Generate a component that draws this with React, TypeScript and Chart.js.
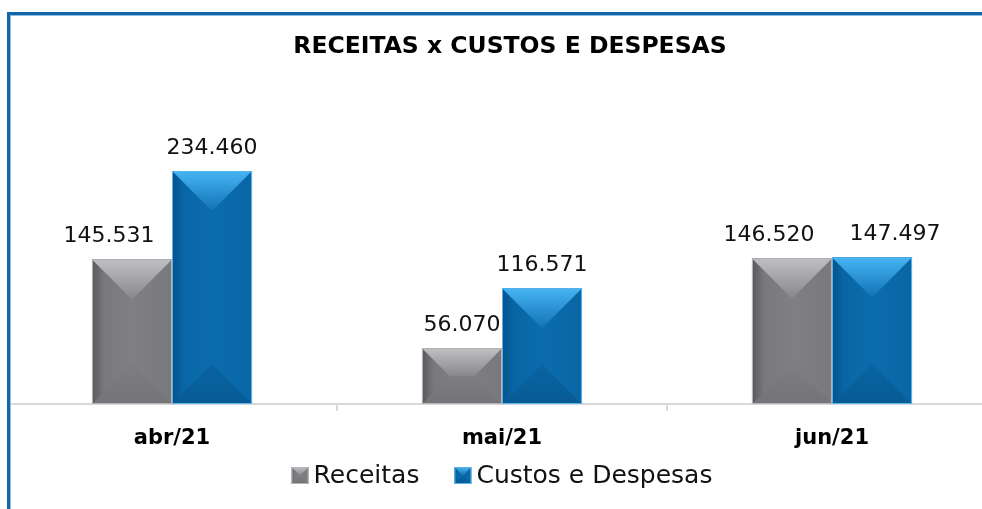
import { useEffect, useRef } from 'react';
import { Chart, registerables } from 'chart.js';

Chart.register(...registerables);

const categories = ['abr/21', 'mai/21', 'jun/21'];
const receitas = [145531, 56070, 146520];
const custos = [234460, 116571, 147497];
const seriesNames = ['Receitas', 'Custos e Despesas'];
const chartTitle = 'RECEITAS x CUSTOS E DESPESAS';
const yMax = 250000;

const FONT = '"DejaVu Sans", sans-serif';

type Pal = { base: string; dark: string; light: string; top: string; topEnd: string; bottom: string; bottomEnd: string; edge: string };

const palettes: Pal[] = [
  { base: '#79797d', dark: '#58585c', light: '#808084', top: '#c0c0c4', topEnd: '#88888c', bottom: '#7e7e82', bottomEnd: '#747478', edge: '#b5b5b9' },
  { base: '#0966a5', dark: '#04528a', light: '#0b6cad', top: '#46b4f3', topEnd: '#1272b6', bottom: '#0964a2', bottomEnd: '#075b94', edge: '#5ab4ea' },
];

function fmt(v: number): string {
  return String(v).replace(/\B(?=(\d{3})+(?!\d))/g, '.');
}

function drawBevel(ctx: CanvasRenderingContext2D, l: number, t: number, r: number, b: number, p: Pal) {
  const w = r - l;
  const h = b - t;
  if (w <= 0 || h <= 0) return;
  const d = Math.min(w / 2, h / 2);
  ctx.save();
  let g = ctx.createLinearGradient(l, 0, r, 0);
  g.addColorStop(0, p.dark);
  g.addColorStop(0.15, p.base);
  g.addColorStop(0.5, p.light);
  g.addColorStop(1, p.base);
  ctx.fillStyle = g;
  ctx.fillRect(l, t, w, h);
  g = ctx.createLinearGradient(0, t, 0, t + d);
  g.addColorStop(0, p.top);
  g.addColorStop(1, p.topEnd);
  ctx.beginPath();
  ctx.moveTo(l, t);
  ctx.lineTo(r, t);
  ctx.lineTo(r - d, t + d);
  ctx.lineTo(l + d, t + d);
  ctx.closePath();
  ctx.fillStyle = g;
  ctx.fill();
  g = ctx.createLinearGradient(0, b - d, 0, b);
  g.addColorStop(0, p.bottom);
  g.addColorStop(1, p.bottomEnd);
  ctx.beginPath();
  ctx.moveTo(l, b);
  ctx.lineTo(r, b);
  ctx.lineTo(r - d, b - d);
  ctx.lineTo(l + d, b - d);
  ctx.closePath();
  ctx.fillStyle = g;
  ctx.fill();
  ctx.strokeStyle = p.edge;
  ctx.lineWidth = 1;
  ctx.strokeRect(l + 0.5, t + 0.5, w - 1, h - 1);
  ctx.restore();
}

const LABEL_GAP = 17;
const LABEL_H = 17;
const SHIFT = 23;

const decorPlugin = {
  id: 'decor',
  afterDatasetsDraw(chart: any) {
    const ctx: CanvasRenderingContext2D = chart.ctx;
    const metas = chart.data.datasets.map((_: any, i: number) => chart.getDatasetMeta(i));
    metas.forEach((meta: any, i: number) => {
      meta.data.forEach((el: any) => {
        const { x, y, base, width } = el.getProps(['x', 'y', 'base', 'width'], true);
        drawBevel(ctx, x - width / 2, y, x + width / 2, base, palettes[i]);
      });
    });
    ctx.save();
    ctx.font = `22px ${FONT}`;
    ctx.fillStyle = '#111';
    ctx.textAlign = 'center';
    ctx.textBaseline = 'alphabetic';
    categories.forEach((_, j) => {
      const a = metas[0].data[j].getProps(['x', 'y', 'width'], true);
      const b = metas[1].data[j].getProps(['x', 'y', 'width'], true);
      const ta = fmt(receitas[j]);
      const tb = fmt(custos[j]);
      const wa = ctx.measureText(ta).width;
      const wb = ctx.measureText(tb).width;
      let xa = a.x;
      let xb = b.x;
      const ya = a.y - LABEL_GAP;
      const yb = b.y - LABEL_GAP;
      // label of first series overlapping the neighbouring bar or label
      const aRight = xa + wa / 2;
      const bLeft = xb - wb / 2;
      const barLeft = b.x - b.width / 2;
      const overlapsBar = aRight > barLeft && ya > b.y;
      const overlapsLabel = aRight > bLeft && Math.abs(ya - yb) < LABEL_H + 2;
      if (overlapsLabel) {
        xa -= SHIFT;
        xb += SHIFT;
      } else if (overlapsBar) {
        xa -= SHIFT;
      }
      ctx.fillText(ta, xa, ya);
      ctx.fillText(tb, xb, yb);
    });
    ctx.restore();
  },
  afterDraw(chart: any) {
    const ctx: CanvasRenderingContext2D = chart.ctx;
    const area = chart.chartArea;
    ctx.save();
    ctx.font = `bold 23.5px ${FONT}`;
    ctx.fillStyle = '#000';
    ctx.textAlign = 'center';
    ctx.textBaseline = 'middle';
    ctx.fillText(chartTitle, 503, 32);
    ctx.font = `25px ${FONT}`;
    const box = 17;
    const gapText = 5;
    const gapItem = 35;
    const widths = seriesNames.map((n) => ctx.measureText(n).width);
    const total = widths.reduce((acc, w) => acc + box + gapText + w, 0) + gapItem * (seriesNames.length - 1);
    let x = (area.left + area.right) / 2 - total / 2;
    const baseY = 468;
    ctx.textAlign = 'left';
    ctx.textBaseline = 'alphabetic';
    seriesNames.forEach((n, i) => {
      drawBevel(ctx, x, baseY - 16, x + box, baseY + 1, palettes[i]);
      ctx.fillStyle = '#111';
      ctx.fillText(n, x + box + gapText, baseY);
      x += box + gapText + widths[i] + gapItem;
    });
    ctx.restore();
  },
};

export default function App() {
  const ref = useRef<HTMLCanvasElement | null>(null);
  useEffect(() => {
    if (!ref.current) return;
    const chart = new Chart(ref.current, {
      type: 'bar',
      data: {
        labels: categories,
        datasets: [
          { label: seriesNames[0], data: receitas, backgroundColor: palettes[0].base, borderWidth: 0 },
          { label: seriesNames[1], data: custos, backgroundColor: palettes[1].base, borderWidth: 0 },
        ],
      },
      options: {
        responsive: false,
        animation: false,
        events: [],
        layout: { padding: { top: 140.6, right: 16, left: 0, bottom: 42.8 } },
        datasets: { bar: { barPercentage: 1, categoryPercentage: 0.485 } },
        plugins: {
          legend: { display: false },
          title: { display: false },
          tooltip: { enabled: false },
        },
        scales: {
          x: {
            grid: { display: true, drawOnChartArea: false, drawTicks: true, tickLength: 7, color: '#d9d9d9', lineWidth: 2, offset: true },
            border: { display: true, color: '#d9d9d9', width: 2 },
            ticks: { font: { family: FONT, size: 21, weight: 'bold' }, color: '#000', padding: 15 },
          },
          y: { display: false, min: 0, max: yMax },
        },
      },
      plugins: [decorPlugin],
    } as any);
    return () => chart.destroy();
  }, []);

  return (
    <div style={{ position: 'fixed', left: 0, top: 0, width: 982, height: 509, overflow: 'hidden', background: '#fff' }}>
      <canvas ref={ref} width={1006} height={494} style={{ position: 'absolute', left: 7, top: 15, display: 'block' }} />
      <div
        style={{
          position: 'absolute',
          left: 7,
          top: 12,
          width: 1010,
          height: 520,
          boxSizing: 'border-box',
          border: '3px solid #1266a9',
          boxShadow: 'inset 1px 1px 0 #8fbde3',
          pointerEvents: 'none',
        }}
      />
    </div>
  );
}
